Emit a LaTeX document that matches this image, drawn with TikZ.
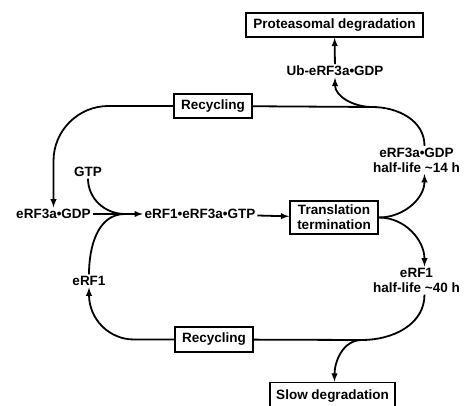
\documentclass[tikz,border=0pt]{standalone}
\usepackage{fontspec}
\setmainfont{Liberation Sans}

\begin{document}
\begin{tikzpicture}[x=1pt, y=-1pt, line width=1.8pt,
  every node/.style={font=\bfseries\fontsize{13.5}{15}\selectfont, align=center, inner sep=1pt},
  box/.style={draw, inner sep=0pt, minimum height=24pt}]
\useasboundingbox (0,0) rectangle (469,406);
% boxes
\node[box, minimum width=177pt] (prot) at (334.5,25) {Proteasomal degradation};
\node[box, minimum width=78pt] (rectop) at (213,106) {Recycling};
\node[box, minimum width=88pt, minimum height=33pt] (term) at (334,217.5) {Translation\\termination};
\node[box, minimum width=78pt, minimum height=25pt] (recbot) at (214,339.5) {Recycling};
\node[box, minimum width=125pt, minimum height=27pt] (slow) at (332.5,396) {Slow degradation};
% factors
\node (ub) at (335,71) {Ub-eRF3a•GDP};
\node (gdpR) at (416.5,160) {eRF3a•GDP\\half-life \textasciitilde14 h};
\node (gdpL) at (53.5,214) {eRF3a•GDP};
\node (gtp) at (88,172) {GTP};
\node (complex) at (200,214) {eRF1•eRF3a•GTP};
\node (rf1R) at (416.5,280.5) {eRF1\\half-life \textasciitilde40 h};
\node (rf1L) at (89,281) {eRF1};
\coordinate (join) at (125,214);
\coordinate (tsplit) at (372,107);
\coordinate (bsplit) at (362,340);
% eRF3a loop
\draw[-latex] (ub) -- (prot);
\draw ([xshift=8pt]gdpR.north) to[out=90,in=0] (tsplit) -- (rectop);
\draw[-latex] (tsplit) to[out=180,in=-90] (ub);
\draw[-latex, rounded corners=55pt] (rectop.west) -| (gdpL.north);
% assembly
\draw (gdpL) -- (join);
\draw (gtp) to[out=-90,in=180] (join);
\draw (rf1L) to[out=90,in=180] (join);
\draw[-latex] (join) -- (complex);
\draw[-latex] (complex) -- (term);
\draw[-latex] (term.east) to[out=0,in=-90] ([xshift=8pt]gdpR.south);
\draw[-latex] (term.east) to[out=0,in=90] ([xshift=8pt]rf1R.north);
% eRF1 loop
\draw ([xshift=8pt]rf1R.south) to[out=-90,in=0] (bsplit) -- (recbot);
\draw[-latex, rounded corners=45pt] (recbot.west) -| (rf1L.south);
\draw[-latex] (bsplit) to[out=180,in=90] ([xshift=2pt]slow.north);
\end{tikzpicture}
\end{document}
